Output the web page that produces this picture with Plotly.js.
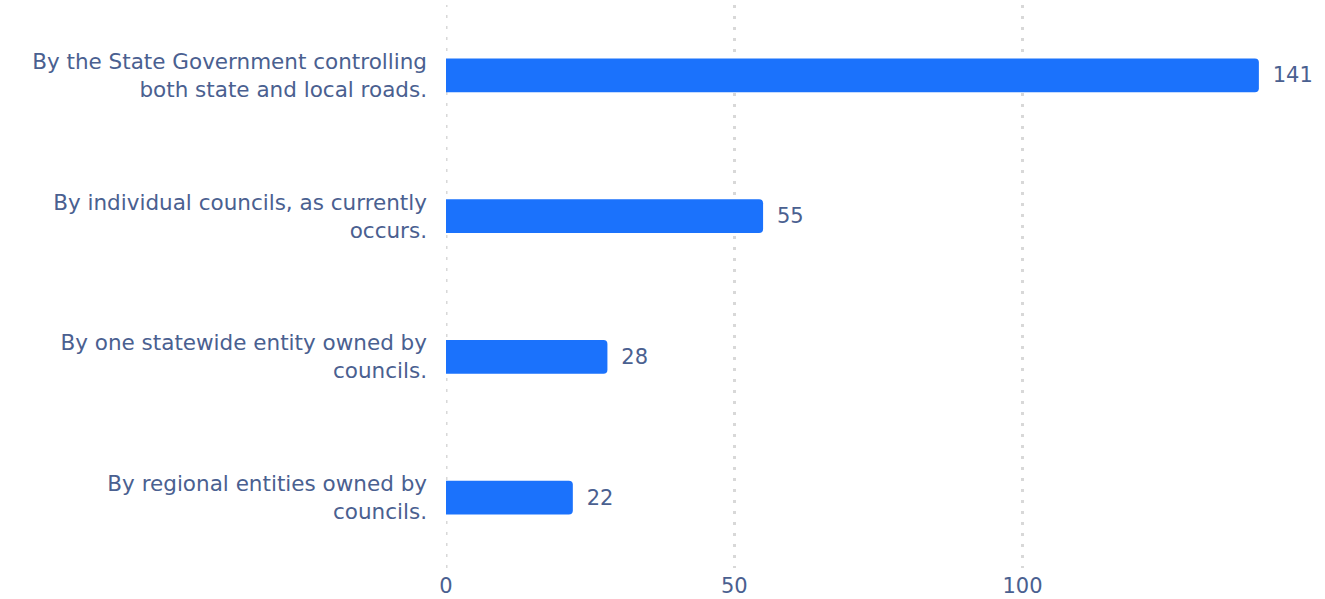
<!DOCTYPE html>
<html><head><meta charset="utf-8">
<script src="https://cdn.plot.ly/plotly-3.0.1.min.js"></script>
<style>html,body{margin:0;padding:0;background:#fff;}#chart{width:1325px;height:599px;}</style>
</head><body><div id="chart"></div>
<script>
const categories = [
  "By the State Government controlling<br>both state and local roads.",
  "By individual councils, as currently<br>occurs.",
  "By one statewide entity owned by<br>councils.",
  "By regional entities owned by<br>councils."
];
const values = [141, 55, 28, 22];
const tickVals = [0, 50, 100];

const textColor = "#4a6090";
const fontFam = "DejaVu Sans, sans-serif";

Plotly.newPlot("chart", [{
  type: "bar",
  orientation: "h",
  y: categories,
  x: values,
  text: values.map(v => "\u00a0\u2009" + v),
  textposition: "outside",
  cliponaxis: false,
  textfont: {family: fontFam, size: 21, color: textColor},
  marker: {color: "#1b72fc"},
  hoverinfo: "none"
}], {
  width: 1325, height: 599,
  margin: {l: 446, r: 20, t: 5, b: 31},
  paper_bgcolor: "#fff", plot_bgcolor: "#fff",
  bargap: 0.76,
  barcornerradius: 4,
  showlegend: false,
  font: {family: fontFam, size: 21, color: textColor},
  shapes: [{
    type: "line", xref: "x", yref: "paper", x0: tickVals[0], x1: tickVals[0], y0: 0, y1: 1,
    layer: "below", line: {color: "#d8d8d8", width: 3, dash: "3px,8px"}
  }],
  xaxis: {
    range: [0, 149],
    tickvals: tickVals,
    showgrid: true, gridcolor: "#d8d8d8", griddash: "3px,8px", gridwidth: 3,
    zeroline: false, showline: false, ticks: "", ticklabelstandoff: 3,
    tickfont: {family: fontFam, size: 21, color: textColor}
  },
  yaxis: {
    autorange: "reversed",
    showgrid: false, zeroline: false, showline: false, ticks: "",
    ticklabelstandoff: 18,
    tickfont: {family: fontFam, size: 21.5, color: textColor}
  }
}, {displayModeBar: false, staticPlot: true});
</script></body></html>
